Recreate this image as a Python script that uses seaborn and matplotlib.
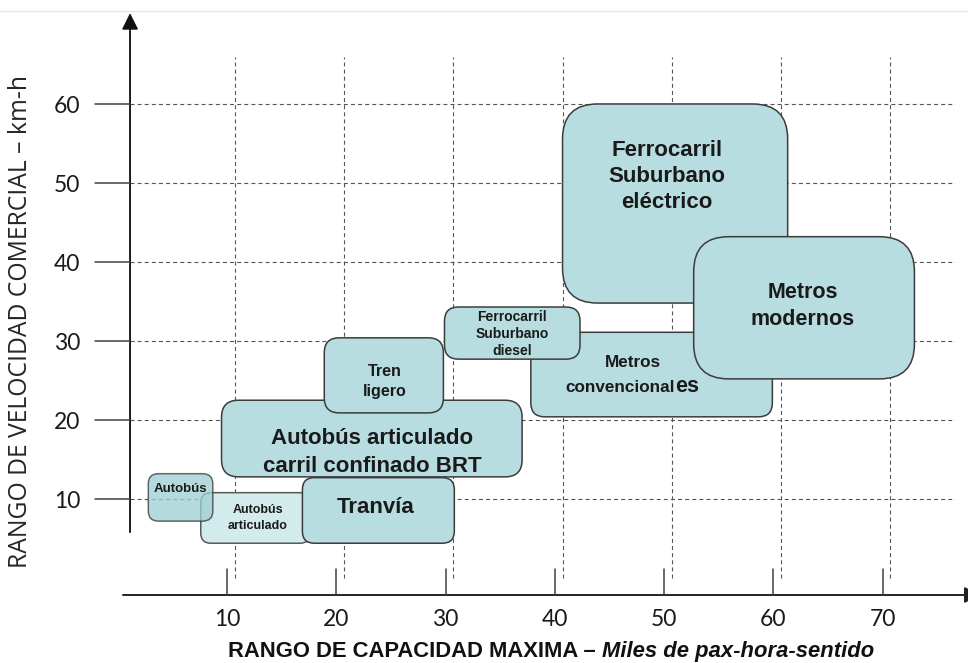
import matplotlib
matplotlib.use("Agg")
import matplotlib.pyplot as plt
from matplotlib.patches import FancyBboxPatch
import seaborn as sns

# Transport modes: capacity range (thousand pax/hour/direction) and commercial speed range (km/h)
modes = ["Autobús articulado", "Autobús", "Tranvía",
         "Autobús articulado carril confinado BRT", "Tren ligero",
         "Ferrocarril Suburbano eléctrico", "Metros convencionales",
         "Ferrocarril Suburbano diesel", "Metros modernos"]
cap_min = [7.6, 2.8, 16.9, 9.5, 18.9, 40.7, 37.8, 29.9, 52.7]
cap_max = [17.6, 8.7, 30.8, 37.0, 29.8, 61.3, 59.9, 42.3, 72.9]
vel_min = [4.4, 7.2, 4.4, 12.8, 20.9, 34.8, 20.4, 27.7, 25.2]
vel_max = [10.8, 13.2, 12.7, 22.5, 30.4, 60.0, 31.1, 34.3, 43.2]

box_text = ["Autobús\narticulado", "Autobús", "Tranvía",
            "Autobús articulado\ncarril confinado BRT", "Tren\nligero",
            "Ferrocarril\nSuburbano\neléctrico", None,
            "Ferrocarril\nSuburbano\ndiesel", "Metros\nmodernos"]

x_ticks = [10, 20, 30, 40, 50, 60, 70]
y_ticks = [10, 20, 30, 40, 50, 60]

sns.set_theme(style="white")
plt.rcParams["font.family"] = ["Liberation Sans", "DejaVu Sans"]

fig = plt.figure(figsize=(9.68, 6.63), dpi=100)
ax = fig.add_axes([0, 0, 1, 1])
ax.set_xlim(-10.77, 77.8)
ax.set_ylim(-10.76, 73.16)
ax.axis("off")

PX_X = 10.93   # pixels per capacity unit
PX_Y = 7.9     # pixels per speed unit
ASPECT = PX_X / PX_Y

GRID = dict(color="#555555", lw=0.8, ls=(0, (3.6, 2.8)), zorder=1)
AX_COLOR = "#404040"
ARROW = "-|>,head_length=0.5,head_width=0.25"

# faint frame line along the top
ax.plot([-10.77, 77.8], [71.77, 71.77], color="#e6e6e6", lw=1.0, zorder=0)

# dashed reference grid
for xv in x_ticks:
    ax.plot([xv + 0.7, xv + 0.7], [0, 65.9], **GRID)
for yv in y_ticks:
    ax.plot([1.13, 76.6], [yv, yv], **GRID)

# axes with arrows
ax.plot([1.13, 1.13], [5.8, 70.0], color="#606060", lw=1.2, zorder=2)
ax.annotate("", xy=(1.13, 71.5), xytext=(1.13, 5.8), annotation_clip=False,
            arrowprops=dict(arrowstyle=ARROW, mutation_scale=20,
                            color="#111111", lw=1.2, shrinkA=0, shrinkB=0),
            zorder=2)
ax.plot([0.49, 78.0], [-2.15, -2.15], color="#333333", lw=1.2, zorder=2)
ax.annotate("", xy=(78.95, -2.15), xytext=(0.49, -2.15), annotation_clip=False,
            arrowprops=dict(arrowstyle=ARROW, mutation_scale=20,
                            color="#222222", lw=1.2, shrinkA=0, shrinkB=0),
            zorder=2)

# tick marks and tick labels
tick_font = dict(family=["Lato", "DejaVu Sans"], fontsize=16.5, color="#1a1a1a")
for yv in y_ticks:
    ax.plot([-2.07, 1.13], [yv, yv], color=AX_COLOR, lw=1.1, zorder=2)
    ax.text(-3.45, yv - 0.3, str(yv), ha="right", va="center", **tick_font)
for xv in x_ticks:
    ax.plot([xv, xv], [1.14, -2.15], color=AX_COLOR, lw=1.1, zorder=2)
    ax.text(xv, -5.2, str(xv), ha="center", va="center", **tick_font)

# boxes for each mode
radius_px = [10, 10, 12, 17, 15, 35, 14, 14, 35]
fills = ["#d4ebed", "#9ecfd4", "#b8dde1", "#b8dde1", "#b8dde1",
         "#b8dde1", "#b8dde1", "#b8dde1", "#b8dde1"]
alphas = [1.0, 0.77, 1, 1, 1, 1, 1, 1, 1]
edges = ["#5a5a5a"] + ["#3c3c3c"] * 8
for i, m in enumerate(modes):
    w = cap_max[i] - cap_min[i]
    h = vel_max[i] - vel_min[i]
    r = radius_px[i] / PX_X
    patch = FancyBboxPatch((cap_min[i], vel_min[i]), w, h,
                           boxstyle=f"round,pad=0,rounding_size={r}",
                           mutation_aspect=ASPECT,
                           facecolor=fills[i], alpha=alphas[i],
                           edgecolor=edges[i], lw=1.1, zorder=3 + i * 2)
    ax.add_patch(patch)

# labels inside the boxes
label_pos = [(12.8, 7.6), (5.7, 11.3), (23.6, 8.9), (23.3, 15.9), (24.4, 24.9),
             (50.25, 50.8), None, (36.1, 30.9), (62.7, 34.4)]
label_size = [9, 9.5, 16, 16, 11.6, 16, None, 10, 15.5]
label_spacing = [1.45, 1.2, 1.2, 1.44, 1.45, 1.3, None, 1.3, 1.34]
for i, txt in enumerate(box_text):
    if txt is None:
        continue
    ax.text(label_pos[i][0], label_pos[i][1], txt, ha="center", va="center",
            fontsize=label_size[i], fontweight="bold", color="#1a1a1a",
            linespacing=label_spacing[i], zorder=4 + i * 2)

# Metros convencionales, with the larger closing "es"
k = modes.index("Metros convencionales")
ax.text(47.1, 26.7, "Metros", ha="center", va="baseline", fontsize=12.3,
        fontweight="bold", color="#1a1a1a", zorder=4 + k * 2)
conv = ax.text(46.0, 23.5, "convencional", ha="center", va="baseline",
               fontsize=12.3, fontweight="bold", color="#1a1a1a", zorder=4 + k * 2)
renderer = fig.canvas.get_renderer()
bb = conv.get_window_extent(renderer=renderer)
x_end = ax.transData.inverted().transform((bb.x1, bb.y0))[0]
ax.text(x_end, 23.5, "es", ha="left", va="baseline", fontsize=15.5,
        fontweight="bold", color="#1a1a1a", zorder=4 + k * 2)

# axis titles
ax.text(-8.9, 32.5, "RANGO DE VELOCIDAD COMERCIAL – km-h", rotation=90,
        ha="center", va="center", family=["Open Sans", "DejaVu Sans"],
        fontsize=17.8, color="#262626")
xt = ax.text(10.1, -10.0, "RANGO DE CAPACIDAD MAXIMA – ", ha="left",
             va="baseline", fontsize=15.8, fontweight="bold", color="#111111")
bb = xt.get_window_extent(renderer=renderer)
x_end = ax.transData.inverted().transform((bb.x1, bb.y0))[0]
ax.text(x_end, -10.0, "Miles de pax-hora-sentido", ha="left", va="baseline",
        fontsize=15.8, fontweight="bold", fontstyle="italic", color="#111111")

fig.savefig("out.png", dpi=100)
